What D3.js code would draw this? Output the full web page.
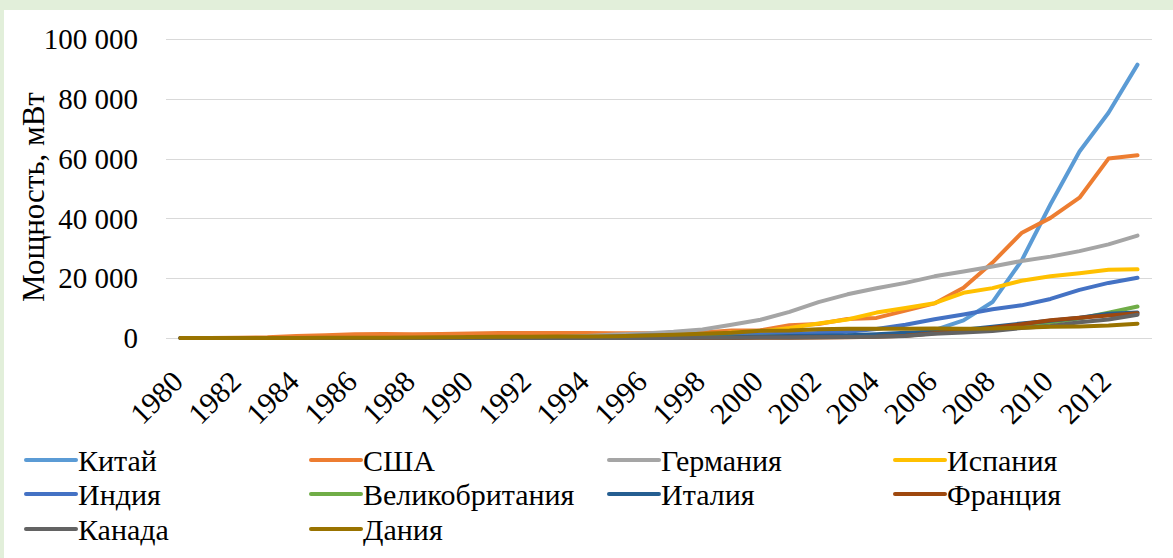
<!DOCTYPE html>
<html>
<head>
<meta charset="utf-8">
<script src="https://cdn.jsdelivr.net/npm/d3@7"></script>
<style>
  body { margin: 0; background: #e2efda; }
  #chart { position: absolute; left: 4px; top: 10px; width: 1169px; height: 548px; background: #fff; }
</style>
</head>
<body>
<div id="chart"></div>
<script>
// данные по годам (мВт)
var years = d3.range(1980, 2014)
var yTicks = [0, 20000, 40000, 60000, 80000, 100000]

var china = [0,0,0,0,0,0,0,0,0,0, 4,9,15,20,30,38,79,166,224,268, 346,400,468,567,764,1260,2599,5912,12020,25805, 44733,62364,75324,91424]
var usa = [8,18,84,254,653,945,1265,1333,1231,1332, 1484,1709,1680,1635,1663,1612,1614,1673,1848,2472, 2578,4275,4685,6370,6725,9149,11575,16819,25237,35086, 40180,46919,60007,61091]
var germany = [0,0,0,0,0,5,10,15,20,30, 55,100,180,335,643,1137,1545,2081,2875,4442, 6113,8754,12001,14609,16629,18428,20622,22247,23903,25777, 27214,29060,31308,34250]
var spain = [0,0,0,0,0,0,0,0,0,0, 7,7,50,50,75,115,249,427,880,1812, 2235,3337,4825,6203,8504,10028,11630,15131,16689,19149, 20676,21674,22796,22959]
var india = [0,0,0,0,0,0,0,0,0,0, 20,39,39,79,185,576,820,940,992,1035, 1220,1456,1702,2125,3000,4430,6270,7845,9587,10925, 13065,16084,18421,20150]
var uk = [0,0,0,0,0,0,0,0,0,0, 10,12,50,100,147,200,264,319,333,362, 406,474,552,649,888,1353,1962,2389,3195,4245, 5204,6540,8445,10531]
var italy = [0,0,0,0,0,0,0,0,0,0, 2,3,5,10,20,25,70,103,180,277, 427,682,788,904,1265,1718,2123,2726,3736,4850, 5797,6747,8144,8552]
var france = [0,0,0,0,0,0,0,0,0,0, 0,0,1,2,3,5,7,10,19,25, 66,93,148,257,390,757,1589,2455,3404,4574, 5970,6800,7564,8254]
var canada = [0,0,0,0,0,0,0,0,0,0, 0,5,10,15,20,21,21,26,82,125, 137,198,236,322,444,683,1460,1846,2369,3319, 4008,5265,6200,7803]
var denmark = [5,10,15,20,30,50,80,115,190,260, 343,413,458,489,539,619,835,1116,1443,1738, 2417,2489,2889,3116,3124,3128,3136,3125,3163,3465, 3749,3871,4162,4772]

var names = ['Китай','США','Германия','Испания','Индия','Великобритания','Италия','Франция','Канада','Дания']
var colors = ['#5b9bd5','#ed7d31','#a5a5a5','#ffc000','#4472c4','#70ad47','#255e91','#9e480e','#636363','#997300']
var seriesValues = [china, usa, germany, spain, india, uk, italy, france, canada, denmark]

var w = 1169, h = 548
var plotLeft = 162, plotRight = 1148, plotTop = 29, plotBottom = 328
var serif = 'Times New Roman, Liberation Serif, DejaVu Serif, serif'

var svg = d3.select('#chart').append('svg')
    .attr('width', w)
    .attr('height', h)
    .style('font-family', serif)

var scaleX = d3.scaleBand()
    .domain(years)
    .range([plotLeft, plotRight])

var scaleY = d3.scaleLinear()
    .domain([0, 100000])
    .range([plotBottom, plotTop])

var fmt = function(v){ return d3.format(',')(v).replace(/,/g, ' ') }

// сетка
svg.append('g').selectAll('line')
    .data(yTicks)
    .enter()
    .append('line')
    .attr('x1', plotLeft)
    .attr('x2', plotRight)
    .attr('y1', function(d){ return Math.round(scaleY(d)) + 0.5 })
    .attr('y2', function(d){ return Math.round(scaleY(d)) + 0.5 })
    .attr('stroke', '#d9d9d9')
    .attr('stroke-width', 1.2)

// подписи оси Y
svg.append('g').selectAll('text')
    .data(yTicks)
    .enter()
    .append('text')
    .attr('x', 134)
    .attr('y', function(d){ return scaleY(d) })
    .attr('dy', '0.35em')
    .attr('text-anchor', 'end')
    .style('font-family', serif)
    .attr('font-size', '29px')
    .text(fmt)

// подписи оси X (каждый второй год)
svg.append('g').selectAll('text')
    .data(years.filter(function(d){ return d % 2 === 0 }))
    .enter()
    .append('text')
    .attr('transform', function(d){
        return 'translate(' + (scaleX(d) + scaleX.bandwidth()/2 - 3) + ',' + (plotBottom + 38) + ') rotate(-45)'
    })
    .attr('text-anchor', 'end')
    .attr('dy', '0.35em')
    .style('font-family', serif)
    .attr('font-size', '30px')
    .text(function(d){ return d })

// название оси Y
svg.append('text')
    .attr('transform', 'translate(40,' + 187 + ') rotate(-90)')
    .attr('text-anchor', 'middle')
    .style('font-family', serif)
    .attr('font-size', '31px')
    .text('Мощность, мВт')

// линии
var line = d3.line()
    .x(function(d, i){ return scaleX(years[i]) + scaleX.bandwidth()/2 })
    .y(function(d){ return scaleY(d) })

svg.append('g').selectAll('path')
    .data(seriesValues)
    .enter()
    .append('path')
    .attr('d', line)
    .attr('fill', 'none')
    .attr('stroke', function(d, i){ return colors[i] })
    .attr('stroke-width', 4)
    .attr('stroke-linejoin', 'round')
    .attr('stroke-linecap', 'round')

// легенда
var legendX = [22, 307, 605, 891]
var legendY = [450, 484, 519]

var item = svg.append('g').selectAll('g')
    .data(names)
    .enter()
    .append('g')
    .attr('transform', function(d, i){
        return 'translate(' + legendX[i % 4] + ',' + legendY[Math.floor(i / 4)] + ')'
    })

item.append('line')
    .attr('x1', 0)
    .attr('x2', 50)
    .attr('stroke', function(d, i){ return colors[i] })
    .attr('stroke-width', 4)
    .attr('stroke-linecap', 'round')

item.append('text')
    .attr('x', 52)
    .attr('dy', '0.35em')
    .style('font-family', serif)
    .attr('font-size', '30px')
    .text(function(d){ return d })
</script>
</body>
</html>
